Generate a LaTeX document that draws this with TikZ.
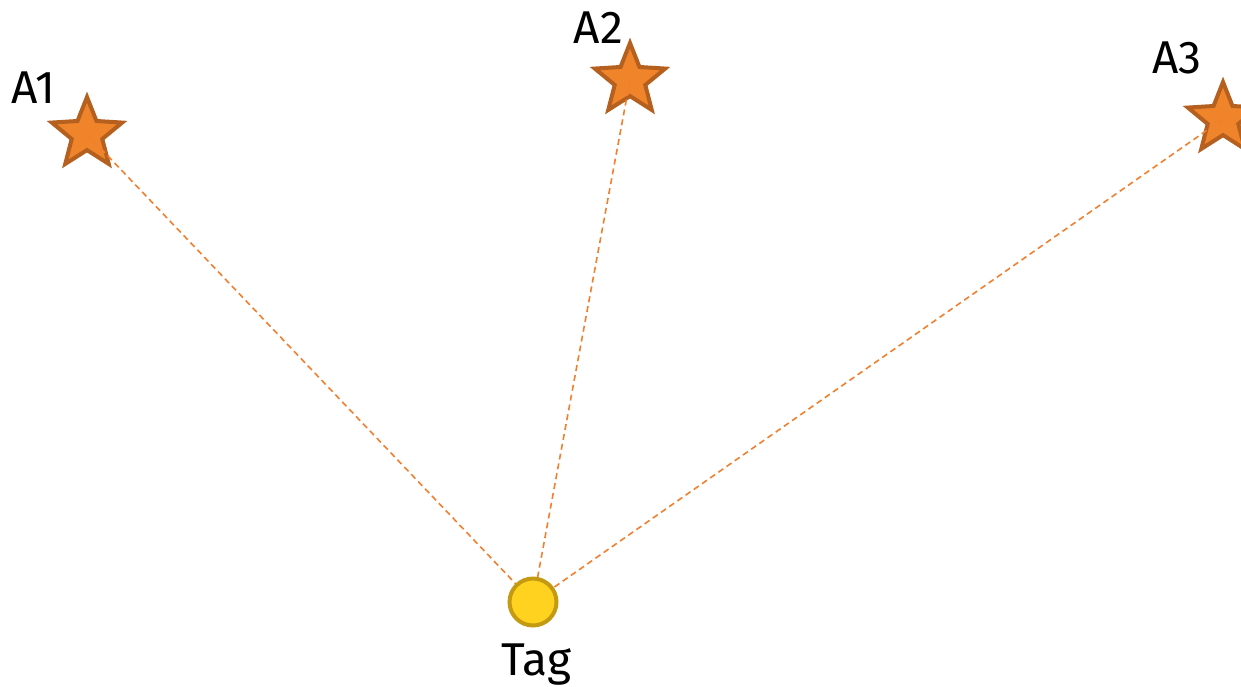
\documentclass[tikz,border=0pt]{standalone}
\usepackage{fontspec}
\setmainfont{Fira Sans}
\usetikzlibrary{shapes.geometric}
\definecolor{starfill}{HTML}{F0842A}
\definecolor{stardraw}{HTML}{B5601E}
\definecolor{linecol}{HTML}{F08030}
\definecolor{tagfill}{HTML}{FFD21F}
\definecolor{tagdraw}{HTML}{C49A12}
\tikzset{
  anchorstar/.style={star, star points=5, star point ratio=2.3, minimum size=74pt, inner sep=0pt,
    fill=starfill, draw=stardraw, line width=4pt},
  tagnode/.style={circle, minimum size=47pt, inner sep=0pt, fill=tagfill, draw=tagdraw, line width=4pt},
  lbl/.style={anchor=base, font=\fontsize{46}{50}\selectfont, inner sep=0pt},
  rangeline/.style={draw=linecol, line width=1.6pt, dash pattern=on 6pt off 4pt}
}
\begin{document}
\begin{tikzpicture}[x=1pt,y=-1pt]
\useasboundingbox (0,0) rectangle (1241,686);
\node[anchorstar] (a1) at (87,134) {};
\node[anchorstar] (a2) at (630,80) {};
\node[anchorstar] (a3) at (1223,119) {};
\coordinate (t) at (533,602);
\draw[rangeline] (a1.center) -- (t);
\draw[rangeline] (a2.center) -- (t);
\draw[rangeline] (a3.center) -- (t);
\node[tagnode] (tag) at (t) {};
\node[lbl] (l1) at (33,103) {A1};
\node[lbl] (l2) at (598,43) {A2};
\node[lbl] (l3) at (1177,73) {A3};
\node[lbl] (lt) at (536,675) {Tag};
\end{tikzpicture}
\end{document}
